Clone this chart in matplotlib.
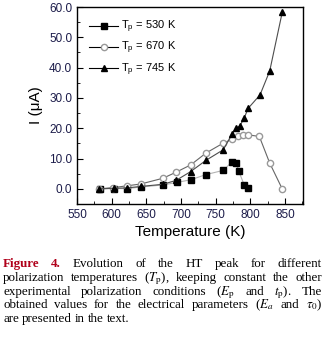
import matplotlib
matplotlib.use("Agg")
import matplotlib.pyplot as plt
from matplotlib.ticker import MultipleLocator

plt.rcParams["font.family"] = ["Liberation Sans", "DejaVu Sans"]
plt.rcParams["mathtext.fontset"] = "stix"

# data
t_530 = [583, 604, 622, 642, 674, 694, 714, 736, 761, 774, 780, 783, 791, 797]
i_530 = [0.0, 0.1, 0.1, 0.6, 1.3, 2.1, 3.0, 4.7, 6.1, 9.0, 8.5, 6.0, 1.4, 0.2]

t_670 = [582, 602, 622, 642, 674, 693, 714, 736, 761, 774, 782, 790, 797, 813, 828, 846]
i_670 = [0.0, 0.4, 1.0, 1.6, 3.5, 5.5, 7.9, 11.8, 15.1, 16.4, 17.3, 17.7, 17.8, 17.3, 8.5, 0.0]

t_745 = [582, 603, 622, 642, 674, 693, 714, 736, 761, 774, 780, 785, 791, 797, 814, 828, 846]
i_745 = [0.0, 0.2, 0.3, 0.8, 1.5, 2.8, 5.7, 9.4, 12.9, 18.2, 20.0, 20.8, 23.3, 26.6, 31.0, 38.9, 58.2]

labels = ["T$_\\mathregular{p}$ = 530 K", "T$_\\mathregular{p}$ = 670 K", "T$_\\mathregular{p}$ = 745 K"]

W, H = 325, 338
fig = plt.figure(figsize=(W / 100, H / 100), dpi=100)
ax = fig.add_axes([77 / W, 1 - 204 / H, 226 / W, 197 / H])

ax.plot(t_530, i_530, "-s", color="0.7", lw=0.8, mfc="black", mec="black", ms=4.5, label=labels[0])
ax.plot(t_670, i_670, "-o", color="0.4", lw=0.8, mfc="white", mec="0.6", ms=4.5, label=labels[1])
ax.plot(t_745, i_745, "-^", color="0.3", lw=0.8, mfc="black", mec="black", ms=4.5, label=labels[2])

ax.set_xlim(550, 876)
ax.set_ylim(-5, 60)
ax.xaxis.set_major_locator(MultipleLocator(50))
ax.xaxis.set_minor_locator(MultipleLocator(25))
ax.yaxis.set_major_locator(MultipleLocator(10))
ax.yaxis.set_minor_locator(MultipleLocator(5))
ax.yaxis.set_major_formatter(lambda v, p: f"{v:.1f}")
ax.tick_params(which="both", direction="in", labelsize=8.5, labelcolor="#1c1c4a")
ax.tick_params(which="major", length=4)
ax.tick_params(which="minor", length=2)
for s in ax.spines.values():
    s.set_linewidth(1.0)

ax.set_xlabel("Temperature (K)", fontsize=11, labelpad=3)
ax.set_ylabel("I (\u03bcA)", fontsize=11, labelpad=4)

leg = ax.legend(loc="upper left", frameon=False, fontsize=8, handlelength=2.6,
                handletextpad=0.3, labelspacing=0.45, borderaxespad=0.7)
for h in leg.legend_handles:
    h.set_color("black")

# caption, justified by placing each word
serif = dict(family=["Liberation Serif", "DejaVu Serif"], fontsize=9.4, color="black")
caption = [
    [("Figure", "red"), ("4.", "red"), "Evolution", "of", "the", "HT", "peak", "for", "different"],
    ["polarization", "temperatures", "($T_\\mathrm{p}$),", "keeping", "constant", "the", "other"],
    ["experimental", "polarization", "conditions", "($E_\\mathrm{p}$", "and", "$t_\\mathrm{p}$).", "The"],
    ["obtained", "values", "for", "the", "electrical", "parameters", "($E_a$", "and", "$\\tau_0$)"],
    ["are", "presented", "in", "the", "text."],
]
line_y = [263, 277, 291, 304, 318]
x0, x1 = 3, 322

fig.canvas.draw()
r = fig.canvas.get_renderer()
for k, words in enumerate(caption):
    arts = []
    for w in words:
        kw = dict(serif)
        if isinstance(w, tuple):
            w = w[0]
            kw.update(color="#b0001a", weight="bold")
        t = fig.text(0, 1 - line_y[k] / H, w, va="baseline", ha="left", **kw)
        arts.append(t)
    widths = [a.get_window_extent(r).width for a in arts]
    if k < len(caption) - 1:
        gap = max((x1 - x0 - sum(widths)) / (len(arts) - 1), 2.0)
    else:
        gap = 3.0
    x = x0
    for a, wd in zip(arts, widths):
        a.set_x(x / W)
        a.set_y(1 - (line_y[k] + 4) / H)
        x += wd + gap

fig.savefig("out.png", dpi=100)
